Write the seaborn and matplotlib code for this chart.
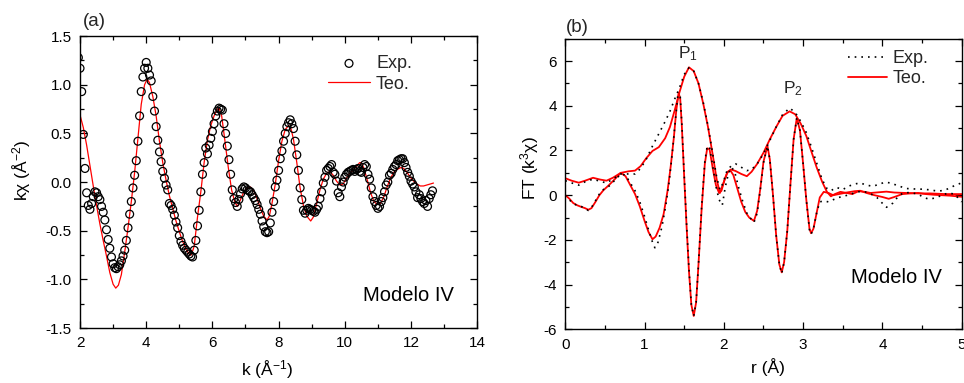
import numpy as np
import pandas as pd
import matplotlib.pyplot as plt
import seaborn as sns
from matplotlib.ticker import MultipleLocator

sns.set_theme(style='ticks')
plt.rcParams['font.family'] = ['Liberation Sans', 'DejaVu Sans']
plt.rcParams['mathtext.fontset'] = 'custom'
plt.rcParams['mathtext.rm'] = 'Liberation Sans'
plt.rcParams['mathtext.it'] = 'Liberation Sans:italic'
plt.rcParams['mathtext.bf'] = 'Liberation Sans:bold'
plt.rcParams['axes.unicode_minus'] = False

# (a) experimental chi(k), sampled every 0.05 starting at k = 1.95
chi_exp = [
    1.28, 1.17, 0.93, 0.49, 0.14, -0.11, -0.24, -0.28, -0.22, -0.15, -0.10,
    -0.11, -0.15, -0.18, -0.25, -0.31, -0.39, -0.49, -0.59, -0.68, -0.77,
    -0.84, -0.88, -0.89, -0.87, -0.85, -0.81, -0.76, -0.70, -0.60, -0.47,
    -0.33, -0.20, -0.06, 0.07, 0.22, 0.42, 0.68, 0.93, 1.08, 1.17,
    1.23, 1.17, 1.10, 1.04, 0.88, 0.73, 0.57, 0.43, 0.31, 0.21,
    0.11, 0.04, -0.03, -0.08, -0.22, -0.24, -0.28, -0.34, -0.41, -0.47,
    -0.55, -0.61, -0.65, -0.68, -0.70, -0.72, -0.74, -0.76, -0.77, -0.70,
    -0.60, -0.45, -0.29, -0.10, 0.08, 0.20, 0.35, 0.29, 0.38, 0.45,
    0.52, 0.60, 0.68, 0.73, 0.76, 0.75, 0.74, 0.60, 0.50, 0.37,
    0.23, 0.08, -0.08, -0.17, -0.21, -0.25, -0.18, -0.12, -0.07, -0.05,
    -0.06, -0.08, -0.09, -0.10, -0.13, -0.16, -0.19, -0.23, -0.28, -0.33,
    -0.40, -0.46, -0.51, -0.52, -0.51, -0.42, -0.31, -0.20, -0.05, 0.02,
    0.12, 0.24, 0.32, 0.42, 0.50, 0.57, 0.61, 0.64, 0.60, 0.55,
    0.42, 0.28, 0.12, -0.06, -0.18, -0.29, -0.32, -0.29, -0.27, -0.28,
    -0.29, -0.30, -0.31, -0.28, -0.25, -0.17, -0.10, -0.01, 0.05, 0.12,
    0.14, 0.16, 0.18, 0.10, 0.08, 0.01, -0.11, -0.15, -0.05, 0.00,
    0.05, 0.08, 0.10, 0.11, 0.12, 0.13, 0.11, 0.13, 0.14, 0.11,
    0.10, 0.15, 0.18, 0.16, 0.08, 0.03, -0.06, -0.15, -0.20, -0.24,
    -0.27, -0.25, -0.20, -0.16, -0.10, -0.03, 0.00, 0.07, 0.09, 0.13,
    0.16, 0.18, 0.22, 0.23, 0.24, 0.24, 0.20, 0.15, 0.10, 0.06,
    0.01, -0.02, -0.05, -0.10, -0.16, -0.13, -0.17, -0.20, -0.22, -0.19,
    -0.25, -0.17, -0.13, -0.09,
]
k_exp = np.round(1.95 + 0.05 * np.arange(len(chi_exp)), 2)

# (a) fitted chi(k)
k_teo = [2.00, 2.10, 2.20, 2.30, 2.40, 2.50, 2.60, 2.70, 2.80, 2.90,
         3.00, 3.08, 3.16, 3.25, 3.35, 3.45, 3.55, 3.65, 3.75, 3.85,
         3.95, 4.03, 4.10, 4.20, 4.30, 4.40, 4.50, 4.60, 4.70, 4.80,
         4.90, 5.00, 5.10, 5.20, 5.30, 5.36, 5.45, 5.55, 5.65, 5.75,
         5.85, 5.95, 6.05, 6.15, 6.20, 6.28, 6.38, 6.48, 6.58, 6.68,
         6.76, 6.85, 6.95, 7.05, 7.15, 7.25, 7.35, 7.45, 7.55, 7.65,
         7.72, 7.80, 7.90, 8.00, 8.10, 8.20, 8.30, 8.36, 8.45, 8.55,
         8.65, 8.75, 8.85, 8.97, 9.05, 9.15, 9.25, 9.35, 9.45, 9.55,
         9.65, 9.75, 9.85, 9.95, 10.05, 10.15, 10.25, 10.35, 10.45, 10.50,
         10.58, 10.68, 10.78, 10.88, 10.98, 11.08, 11.18, 11.28, 11.38, 11.48,
         11.58, 11.70, 11.78, 11.88, 11.98, 12.08, 12.18, 12.28, 12.38, 12.48,
         12.58, 12.68]
chi_teo = [0.69, 0.56, 0.38, 0.17, -0.04, -0.24, -0.43, -0.60, -0.76, -0.93,
           -1.05, -1.09, -1.06, -0.95, -0.72, -0.47, -0.20, 0.10, 0.45, 0.80,
           1.00, 1.06, 1.02, 0.88, 0.68, 0.42, 0.20, 0.02, -0.14, -0.27,
           -0.40, -0.51, -0.61, -0.69, -0.74, -0.75, -0.66, -0.36, -0.10, 0.20,
           0.43, 0.58, 0.68, 0.75, 0.76, 0.68, 0.42, 0.15, -0.08, -0.21,
           -0.25, -0.18, -0.10, -0.06, -0.05, -0.09, -0.17, -0.27, -0.35, -0.39,
           -0.35, -0.22, -0.02, 0.22, 0.42, 0.54, 0.58, 0.57, 0.44, 0.20,
           -0.06, -0.24, -0.35, -0.40, -0.36, -0.22, -0.08, 0.03, 0.09, 0.11,
           0.07, 0.01, -0.03, -0.02, 0.04, 0.09, 0.12, 0.16, 0.20, 0.20,
           0.14, 0.02, -0.11, -0.20, -0.23, -0.22, -0.15, -0.05, 0.04, 0.10,
           0.13, 0.15, 0.14, 0.10, 0.05, 0.01, -0.02, -0.04, -0.04, -0.03,
           -0.02, -0.01]

# (b) Fourier transform: modulus-like envelope and oscillating part
r_mod_teo = [0.00, 0.08, 0.17, 0.25, 0.35, 0.44, 0.52, 0.60, 0.70, 0.80,
             0.88, 0.95, 1.02, 1.10, 1.18, 1.26, 1.32, 1.38, 1.44, 1.50,
             1.56, 1.62, 1.68, 1.74, 1.80, 1.86, 1.91, 1.95, 1.99, 2.04,
             2.09, 2.15, 2.22, 2.29, 2.35, 2.42, 2.50, 2.58, 2.66, 2.74,
             2.83, 2.90, 2.97, 3.04, 3.10, 3.17, 3.24, 3.30, 3.35, 3.40,
             3.47, 3.55, 3.62, 3.70, 3.78, 3.85, 3.95, 4.05, 4.15, 4.30,
             4.45, 4.60, 4.80, 5.00]
ft_mod_teo = [0.76, 0.65, 0.56, 0.65, 0.78, 0.70, 0.65, 0.78, 1.00, 1.07,
              1.10, 1.30, 1.65, 1.98, 2.15, 2.55, 3.05, 3.80, 4.60, 5.30,
              5.72, 5.55, 5.00, 4.10, 3.05, 1.80, 0.70, 0.10, 0.50, 1.00,
              1.15, 1.08, 0.95, 0.85, 1.05, 1.40, 1.90, 2.50, 3.05, 3.55,
              3.75, 3.62, 3.20, 2.65, 2.00, 1.25, 0.60, 0.15, -0.05, 0.05,
              0.15, 0.10, 0.05, 0.18, 0.15, 0.10, 0.13, 0.16, 0.12, 0.10,
              0.08, 0.08, 0.05, 0.05]

r_im_teo = [0.00, 0.05, 0.10, 0.15, 0.20, 0.25, 0.29, 0.33, 0.38, 0.43,
            0.48, 0.55, 0.62, 0.70, 0.76, 0.82, 0.88, 0.94, 1.00, 1.05,
            1.10, 1.14, 1.19, 1.24, 1.29, 1.33, 1.37, 1.40, 1.43, 1.45,
            1.47, 1.50, 1.53, 1.56, 1.59, 1.62, 1.65, 1.68, 1.72, 1.76,
            1.79, 1.82, 1.86, 1.90, 1.94, 1.97, 2.01, 2.05, 2.08, 2.12,
            2.17, 2.22, 2.27, 2.32, 2.38, 2.42, 2.46, 2.50, 2.55, 2.58,
            2.62, 2.66, 2.70, 2.73, 2.76, 2.80, 2.84, 2.88, 2.92, 2.96,
            3.00, 3.04, 3.08, 3.10, 3.13, 3.17, 3.21, 3.26, 3.32, 3.38,
            3.45, 3.55, 3.65, 3.72, 3.80, 3.90, 4.00, 4.08, 4.15, 4.25,
            4.35, 4.45, 4.55, 4.65, 4.75, 4.85, 5.00]
ft_im_teo = [0.00, -0.15, -0.35, -0.45, -0.52, -0.58, -0.65, -0.58, -0.30, 0.00,
             0.22, 0.45, 0.70, 1.00, 0.85, 0.45, 0.05, -0.50, -1.15, -1.65,
             -1.97, -1.85, -1.45, -0.85, 0.20, 1.30, 2.60, 3.80, 4.58, 4.30,
             3.10, 0.80, -1.40, -3.40, -4.90, -5.40, -4.80, -3.10, -0.60, 1.40,
             2.10, 2.05, 1.20, 0.45, 0.10, 0.20, 0.70, 1.05, 1.12, 0.90,
             0.30, -0.30, -0.75, -1.00, -1.15, -0.70, 0.30, 1.50, 2.20, 1.60,
             0.00, -1.80, -3.10, -3.45, -3.00, -1.60, 0.50, 2.50, 3.45, 2.90,
             1.40, -0.20, -1.50, -1.70, -1.50, -0.80, -0.10, 0.15, 0.10, 0.00,
             0.05, 0.12, 0.18, 0.20, 0.10, 0.00, -0.08, -0.16, -0.08, 0.05,
             0.08, 0.10, 0.05, 0.02, 0.00, -0.02, -0.07]

r_mod_exp = [0.00, 0.08, 0.17, 0.25, 0.35, 0.44, 0.52, 0.60, 0.70, 0.80,
             0.88, 0.95, 1.02, 1.10, 1.18, 1.26, 1.32, 1.38, 1.44, 1.50,
             1.56, 1.62, 1.68, 1.74, 1.80, 1.86, 1.91, 1.95, 1.99, 2.04,
             2.09, 2.15, 2.22, 2.29, 2.35, 2.42, 2.50, 2.58, 2.66, 2.74,
             2.83, 2.90, 2.97, 3.04, 3.10, 3.17, 3.24, 3.30, 3.35, 3.42,
             3.50, 3.57, 3.65, 3.72, 3.80, 3.88, 3.95, 4.03, 4.10, 4.20,
             4.30, 4.40, 4.50, 4.60, 4.70, 4.78, 4.85, 4.92, 5.00]
ft_mod_exp = [0.65, 0.55, 0.45, 0.60, 0.72, 0.62, 0.55, 0.72, 0.95, 0.95,
              0.95, 1.20, 1.60, 2.20, 2.75, 3.30, 3.75, 4.30, 4.80, 5.40,
              5.70, 5.55, 5.00, 4.15, 3.10, 1.85, 0.80, 0.25, 0.55, 1.10,
              1.30, 1.40, 1.25, 1.10, 1.15, 1.40, 1.85, 2.45, 3.05, 3.60,
              3.90, 3.70, 3.30, 2.80, 2.20, 1.45, 0.70, 0.30, 0.20, 0.35,
              0.25, 0.40, 0.50, 0.55, 0.45, 0.40, 0.48, 0.58, 0.55, 0.42,
              0.30, 0.28, 0.27, 0.24, 0.18, 0.22, 0.32, 0.45, 0.55]

r_im_exp = [0.00, 0.05, 0.10, 0.15, 0.20, 0.25, 0.29, 0.33, 0.38, 0.43,
            0.48, 0.55, 0.62, 0.70, 0.76, 0.82, 0.88, 0.94, 1.00, 1.05,
            1.10, 1.13, 1.17, 1.22, 1.27, 1.31, 1.35, 1.39, 1.42, 1.45,
            1.47, 1.50, 1.53, 1.56, 1.59, 1.62, 1.65, 1.68, 1.72, 1.76,
            1.79, 1.82, 1.86, 1.90, 1.94, 1.98, 2.02, 2.06, 2.10, 2.14,
            2.19, 2.24, 2.29, 2.34, 2.38, 2.42, 2.46, 2.50, 2.55, 2.58,
            2.62, 2.66, 2.70, 2.73, 2.76, 2.80, 2.84, 2.88, 2.92, 2.96,
            3.00, 3.04, 3.08, 3.10, 3.13, 3.17, 3.21, 3.26, 3.32, 3.38,
            3.45, 3.53, 3.60, 3.69, 3.78, 3.86, 3.93, 3.98, 4.05, 4.13,
            4.20, 4.26, 4.35, 4.45, 4.52, 4.59, 4.68, 4.75, 4.83, 4.91,
            5.00]
ft_im_exp = [0.00, -0.20, -0.38, -0.45, -0.50, -0.60, -0.68, -0.55, -0.25, 0.05,
             0.25, 0.40, 0.65, 0.95, 0.90, 0.55, 0.20, -0.30, -0.95, -1.55,
             -2.10, -2.35, -2.10, -1.40, -0.40, 0.60, 1.90, 3.40, 4.50, 4.40,
             3.20, 0.90, -1.30, -3.30, -4.90, -5.40, -4.80, -3.10, -0.50, 1.50,
             2.20, 2.15, 1.30, 0.40, -0.20, -0.45, 0.40, 1.00, 1.25, 1.00,
             0.30, -0.30, -0.80, -1.05, -1.22, -0.80, 0.25, 1.45, 2.20, 1.60,
             0.00, -1.80, -3.10, -3.50, -3.00, -1.60, 0.50, 2.50, 3.45, 2.90,
             1.40, -0.20, -1.55, -1.75, -1.50, -0.80, -0.30, -0.25, -0.30, -0.20,
             -0.10, -0.03, 0.05, 0.16, 0.15, 0.05, -0.10, -0.29, -0.54, -0.36,
             -0.05, 0.10, 0.12, 0.05, -0.10, -0.18, -0.11, 0.00, 0.10, 0.05,
             -0.30]

fig = plt.figure(figsize=(9.64, 3.83), dpi=100)
ax1 = fig.add_axes([0.083, 0.1436, 0.412, 0.762])
ax2 = fig.add_axes([0.5864, 0.140, 0.4112, 0.759])

# ---- panel (a)
sns.lineplot(x=k_teo, y=chi_teo, ax=ax1, color='red', linewidth=0.9,
             sort=False, estimator=None, label='Teo.', zorder=2)
sns.scatterplot(x=k_exp, y=chi_exp, ax=ax1, marker='o', s=32,
                facecolors='none', edgecolor='black', linewidth=0.9,
                label='Exp.', zorder=3)
ax1.set_xlim(2, 14)
ax1.set_ylim(-1.5, 1.5)
ax1.xaxis.set_major_locator(MultipleLocator(2))
ax1.xaxis.set_minor_locator(MultipleLocator(1))
ax1.yaxis.set_major_locator(MultipleLocator(0.5))
ax1.yaxis.set_minor_locator(MultipleLocator(0.25))
ax1.yaxis.set_major_formatter(plt.FormatStrFormatter('%.1f'))
ax1.set_xlabel('k (Å$^{-1}$)', fontsize=12.5, color='black')
ax1.set_ylabel('kχ (Å$^{-2}$)', fontsize=12.5, color='black')
ax1.xaxis.set_label_coords(0.471, -0.105)
ax1.yaxis.set_label_coords(-0.118, 0.54)
h, l = ax1.get_legend_handles_labels()
order = [l.index('Exp.'), l.index('Teo.')]
ax1.legend([h[i] for i in order], [l[i] for i in order], loc='upper left',
           bbox_to_anchor=(0.625, 0.935), frameon=False, fontsize=13,
           handlelength=2.3, handletextpad=0.35, labelspacing=0.2,
           borderpad=0, borderaxespad=0, scatterpoints=1)
ax1.text(0.713, 0.092, 'Modelo IV', transform=ax1.transAxes, fontsize=14.5,
         va='baseline', ha='left', color='black')
fig.text(0.086, 1 - 22 / 383, '(a)', fontsize=13.5, va='center', ha='left')

# ---- panel (b)
sns.lineplot(x=r_mod_teo, y=ft_mod_teo, ax=ax2, color='red', linewidth=1.3,
             sort=False, estimator=None, label='Teo.')
sns.lineplot(x=r_im_teo, y=ft_im_teo, ax=ax2, color='red', linewidth=1.3,
             sort=False, estimator=None)
sns.lineplot(x=r_mod_exp, y=ft_mod_exp, ax=ax2, color='black', linewidth=1.2,
             linestyle=(0, (1, 3)), sort=False, estimator=None, label='Exp.')
sns.lineplot(x=r_im_exp, y=ft_im_exp, ax=ax2, color='black', linewidth=1.2,
             linestyle=(0, (1, 3)), sort=False, estimator=None)
ax2.set_xlim(0, 5)
ax2.set_ylim(-6, 7)
ax2.xaxis.set_major_locator(MultipleLocator(1))
ax2.xaxis.set_minor_locator(MultipleLocator(0.5))
ax2.yaxis.set_major_locator(MultipleLocator(2))
ax2.yaxis.set_minor_locator(MultipleLocator(1))
ax2.set_xlabel('r (Å)', fontsize=12.5, color='black')
ax2.set_ylabel('FT (k$^{3}$χ)', fontsize=12.5, color='black')
ax2.xaxis.set_label_coords(0.511, -0.1)
ax2.yaxis.set_label_coords(-0.062, 0.555)
h, l = ax2.get_legend_handles_labels()
order = [l.index('Exp.'), l.index('Teo.')]
ax2.legend([h[i] for i in order], [l[i] for i in order], loc='upper left',
           bbox_to_anchor=(0.712, 0.96), frameon=False, fontsize=13,
           handlelength=2.2, handletextpad=0.3, labelspacing=0.15,
           borderpad=0, borderaxespad=0)
ax2.text(0.721, 0.159, 'Modelo IV', transform=ax2.transAxes, fontsize=14.5,
         va='baseline', ha='left', color='black')
ax2.text(1.42, 6.14, 'P$_{1}$', fontsize=12.5, va='baseline', ha='left')
ax2.text(2.74, 4.56, 'P$_{2}$', fontsize=12.5, va='baseline', ha='left')
fig.text(0.587, 1 - 27 / 383, '(b)', fontsize=13.5, va='center', ha='left')

for ax in (ax1, ax2):
    for sp in ax.spines.values():
        sp.set_visible(True)
        sp.set_color('black')
        sp.set_linewidth(1.0)
    ax.tick_params(which='both', direction='in', top=True, right=True,
                   colors='black', labelsize=11, width=0.9)
    ax.tick_params(which='major', length=5, pad=6)
    ax.tick_params(which='minor', length=3)
    ax.grid(False)

fig.savefig('out.png', dpi=100)
